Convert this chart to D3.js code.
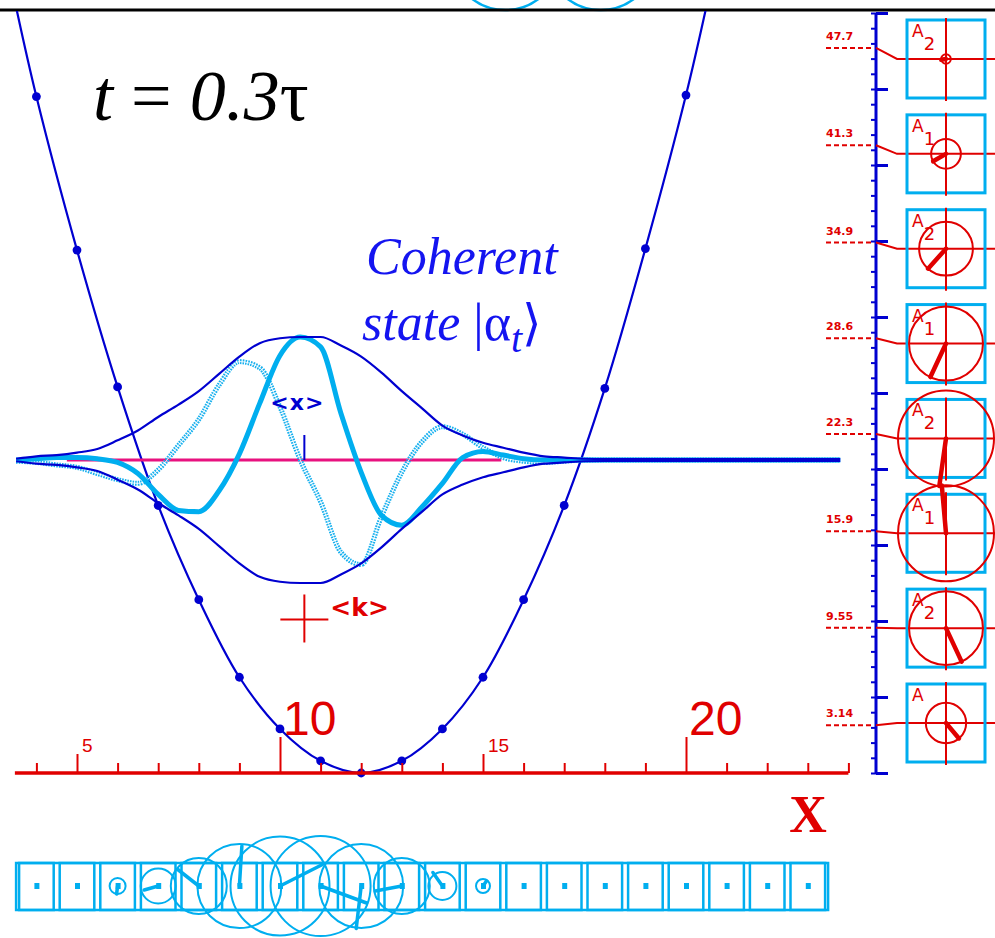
<!DOCTYPE html>
<html>
<head>
<meta charset="utf-8">
<script src="https://cdn.jsdelivr.net/npm/d3@7"></script>
<style>
  body { margin: 0; background: #fff; }
  svg { display: block; }
</style>
</head>
<body>
<script>
// ---------- data ----------
// sample positions along the oscillator coordinate
const gridX = [3.5, 4, 4.5, 5, 5.5, 6, 6.5, 7, 7.5, 8, 8.5, 9, 9.5, 10, 10.5, 11, 11.5, 12, 12.5, 13,
  13.5, 14, 14.5, 15, 15.5, 16, 16.5, 17, 17.5, 18, 18.5, 19, 19.5, 20, 20.5, 21, 21.5, 22, 22.5, 23, 23.5, 23.8];
// |psi| envelope
const envelope = [0.01, 0.03, 0.04, 0.06, 0.09, 0.16, 0.24, 0.35, 0.45, 0.56, 0.70, 0.84, 0.95, 0.99, 1.0, 1.0,
  0.93, 0.84, 0.71, 0.56, 0.42, 0.28, 0.20, 0.14, 0.10, 0.06, 0.03, 0.02, 0.01, 0.008, 0.008, 0.008, 0.008,
  0.008, 0.008, 0.008, 0.008, 0.008, 0.008, 0.008, 0.008, 0.008];
// real part
const rePsi = [0.0, 0.01, 0.02, 0.02, 0.01, -0.02, -0.11, -0.28, -0.41, -0.42, -0.25, 0.05, 0.46, 0.85, 1.0, 0.92,
  0.38, -0.10, -0.45, -0.53, -0.38, -0.19, 0.02, 0.07, 0.04, 0.01, 0.0, 0, 0, 0, 0, 0, 0, 0, 0, 0, 0, 0, 0, 0, 0, 0];
// imaginary part
const imPsi = [-0.01, -0.02, -0.04, -0.06, -0.11, -0.16, -0.19, -0.08, 0.12, 0.33, 0.61, 0.80, 0.75, 0.43, 0.0, -0.34,
  -0.75, -0.85, -0.46, -0.10, 0.15, 0.27, 0.21, 0.10, 0.02, -0.01, -0.02, -0.01, 0, 0, 0, 0, 0, 0, 0, 0, 0, 0, 0, 0, 0, 0];

// harmonic potential, sampled at integer positions (energy units)
const potX = [4, 5, 6, 7, 8, 9, 10, 11, 12, 13, 14, 15, 16, 17, 18, 19, 20];
const potV = [44.5, 34.4, 25.4, 17.6, 11.4, 6.3, 2.9, 0.8, 0, 0.8, 2.9, 6.3, 11.4, 17.6, 25.3, 34.5, 44.6];
// curve continues past the frame on both sides
const potEndsX = [3.45, 20.55];
const potEndsV = [51, 51];

const meanX = 10.6;        // <x>
const meanKLevel = 10.1;   // height of the <k> marker on the energy scale
const baselineSpan = [4.75, 15.45];

// x axis ticks and labels
const xTicks = [4, 5, 6, 7, 8, 9, 10, 11, 12, 13, 14, 15, 16, 17, 18, 19, 20, 21, 22, 23, 24];
const xLabelsSmall = [5, 15];
const xLabelsLarge = [10, 20];

// eigen-component panel (lowest level first)
const levelE = [3.14, 9.55, 15.9, 22.3, 28.6, 34.9, 41.3, 47.7];
const levelLabels = ["3.14", "9.55", "15.9", "22.3", "28.6", "34.9", "41.3", "47.7"];
const levelAmp = [0.42, 0.77, 1.0, 1.0, 0.77, 0.56, 0.31, 0.10];
const levelPhaseDeg = [-50, -65, 95, -98, -115, -132, -150, -170];
const levelSub = ["", "2", "1", "2", "1", "2", "1", "2"];
const energyTicksMinor = [0, 1, 2, 3, 4, 5, 6, 7, 8, 9, 10, 11, 12, 13, 14, 15, 16, 17, 18, 19, 20, 21, 22, 23, 24,
  25, 26, 27, 28, 29, 30, 31, 32, 33, 34, 35, 36, 37, 38, 39, 40, 41, 42, 43, 44, 45, 46, 47, 48, 49, 50];
const energyTicksMajor = [0, 5, 10, 15, 20, 25, 30, 35, 40, 45, 50];

// phasor strip cells
const cellX = [4, 5, 6, 7, 8, 9, 10, 11, 12, 13, 14, 15, 16, 17, 18, 19, 20, 21, 22, 23];
// neighbouring strip above the frame
const upperRowX = [15.55, 17.9];

// ---------- drawing ----------
const W = 995, H = 938;
const BLUE = "#0000d0", CYAN = "#00aeef", RED = "#e00000", PINK = "#e8117f";

const svg = d3.select("body").append("svg").attr("width", W).attr("height", H);

const xs = d3.scaleLinear().domain([5, 20]).range([77, 686]);
const yE = d3.scaleLinear().domain([0, 50]).range([773, 13]);
const yW = d3.scaleLinear().domain([-1, 1]).range([583, 337]);

const wave = gridX.map((x, i) => ({ x, env: envelope[i], re: rePsi[i], im: imPsi[i] }));
const byX = new Map(wave.map(d => [d.x, d]));

// strip of phasors above the frame (only the lower arcs show)
svg.append("g").selectAll("circle").data(upperRowX).join("circle")
  .attr("cx", d => xs(d)).attr("cy", -45).attr("r", 55)
  .attr("fill", "none").attr("stroke", CYAN).attr("stroke-width", 2.5);

// top frame line
svg.append("line").attr("x1", 0).attr("x2", W).attr("y1", 10).attr("y2", 10)
  .attr("stroke", "#000").attr("stroke-width", 3);

// title
const title = svg.append("text").attr("x", 93).attr("y", 120)
  .attr("font-family", "Liberation Serif, Times New Roman, serif").attr("font-size", 72).attr("fill", "#000");
title.append("tspan").attr("font-style", "italic").text("t");
title.append("tspan").text(" = ");
title.append("tspan").attr("font-style", "italic").text("0.3");
title.append("tspan").text("τ");

// caption
const capFont = "Liberation Serif, Times New Roman, serif";
svg.append("text").attr("x", 366).attr("y", 274).attr("font-family", capFont)
  .attr("font-style", "italic").attr("font-size", 52).attr("fill", "#1414f0").text("Coherent");
const cap2 = svg.append("text").attr("x", 362).attr("y", 340).attr("font-family", capFont)
  .attr("font-size", 52).attr("fill", "#1414f0");
cap2.append("tspan").attr("font-style", "italic").text("state ");
cap2.append("tspan").text("|α");
cap2.append("tspan").attr("font-style", "italic").attr("font-size", 40).attr("dy", 12).text("t");
cap2.append("tspan").attr("dy", -12).attr("font-family", "DejaVu Serif, serif").attr("font-size", 50).text("⟩");

// potential
const potLine = d3.line().x(d => xs(d[0])).y(d => yE(d[1])).curve(d3.curveCatmullRom);
const potPts = [[potEndsX[0], potEndsV[0]], ...potX.map((x, i) => [x, potV[i]]), [potEndsX[1], potEndsV[1]]];
svg.append("defs").append("clipPath").attr("id", "frame")
  .append("rect").attr("x", 0).attr("y", 11).attr("width", W).attr("height", H);
svg.append("path").attr("d", potLine(potPts)).attr("clip-path", "url(#frame)")
  .attr("fill", "none").attr("stroke", BLUE).attr("stroke-width", 2.2);
svg.append("g").selectAll("circle").data(potX).join("circle")
  .attr("cx", d => xs(d)).attr("cy", (d, i) => yE(potV[i])).attr("r", 4.4).attr("fill", BLUE);

// baseline of the wave packet
svg.append("line").attr("x1", xs(baselineSpan[0])).attr("x2", xs(baselineSpan[1]))
  .attr("y1", yW(0)).attr("y2", yW(0)).attr("stroke", PINK).attr("stroke-width", 3);

const line = (acc) => d3.line().x(d => xs(d.x)).y(d => yW(acc(d))).curve(d3.curveMonotoneX);
// imaginary part (stippled double line)
svg.append("path").attr("d", line(d => d.im)(wave)).attr("fill", "none")
  .attr("stroke", "#18b0ee").attr("stroke-width", 5).attr("stroke-dasharray", "1.6 1.1");
svg.append("path").attr("d", line(d => d.im)(wave)).attr("fill", "none")
  .attr("stroke", "#fff").attr("stroke-width", 1).attr("stroke-opacity", 0.85);
// real part
svg.append("path").attr("d", line(d => d.re)(wave)).attr("fill", "none")
  .attr("stroke", CYAN).attr("stroke-width", 5).attr("stroke-linejoin", "round");
// envelopes
svg.append("path").attr("d", line(d => d.env)(wave)).attr("fill", "none")
  .attr("stroke", BLUE).attr("stroke-width", 2.2);
svg.append("path").attr("d", line(d => -d.env)(wave)).attr("fill", "none")
  .attr("stroke", BLUE).attr("stroke-width", 2.2);

// <x> marker
svg.append("line").attr("x1", xs(meanX)).attr("x2", xs(meanX)).attr("y1", yW(0)).attr("y2", yW(0) - 25)
  .attr("stroke", BLUE).attr("stroke-width", 2);
svg.append("text").attr("x", xs(meanX) - 7).attr("y", 410).attr("text-anchor", "middle")
  .attr("font-family", "DejaVu Sans, sans-serif").attr("font-weight", "bold").attr("font-size", 22)
  .attr("letter-spacing", 1).attr("fill", BLUE).text("<x>");

// <k> marker
const kx = xs(meanX), ky = yE(meanKLevel);
svg.append("line").attr("x1", kx - 24).attr("x2", kx + 24).attr("y1", ky).attr("y2", ky)
  .attr("stroke", RED).attr("stroke-width", 2);
svg.append("line").attr("x1", kx).attr("x2", kx).attr("y1", ky - 25).attr("y2", ky + 23)
  .attr("stroke", RED).attr("stroke-width", 2);
svg.append("text").attr("x", kx + 26).attr("y", ky - 3)
  .attr("font-family", "DejaVu Sans, sans-serif").attr("font-weight", "bold").attr("font-size", 25)
  .attr("fill", RED).text("<k>");

// x axis
const tickLen = v => xLabelsLarge.includes(v) ? 36 : xLabelsSmall.includes(v) ? 19 : 10;
const gx = svg.append("g").attr("transform", `translate(0,${yE(0)})`)
  .call(d3.axisTop(xs).tickValues(xTicks).tickFormat("").tickSizeOuter(0));
gx.select(".domain").remove();
gx.selectAll(".tick line").attr("y2", d => -tickLen(d)).attr("stroke", RED).attr("stroke-width", 2);
gx.append("line").attr("x1", xs(3.47)).attr("x2", xs(24)).attr("stroke", RED).attr("stroke-width", 3.5);
gx.selectAll(".lblS").data(xLabelsSmall).join("text").attr("class", "lblS")
  .attr("text-anchor", "start").attr("x", d => xs(d) + 5).attr("y", -21)
  .attr("font-family", "Liberation Sans, Arial, sans-serif").attr("font-size", 19).attr("fill", RED).text(d => d);
gx.selectAll(".lblL").data(xLabelsLarge).join("text").attr("class", "lblL")
  .attr("text-anchor", "start").attr("x", d => xs(d) + 3).attr("y", -38)
  .attr("font-family", "Liberation Sans, Arial, sans-serif").attr("font-size", 48).attr("fill", RED).text(d => d);
svg.append("text").attr("x", 808).attr("y", 832).attr("text-anchor", "middle")
  .attr("font-family", "Liberation Serif, Times New Roman, serif").attr("font-weight", "bold")
  .attr("font-size", 52).attr("fill", RED).text("X");

// energy axis
const AX = 876;
const gL = svg.append("g").attr("transform", `translate(${AX},0)`)
  .call(d3.axisLeft(yE).tickValues(energyTicksMinor).tickFormat("").tickSize(5).tickSizeOuter(0));
gL.select(".domain").remove();
gL.selectAll(".tick line").attr("stroke", BLUE).attr("stroke-width", 2);
const gR = svg.append("g").attr("transform", `translate(${AX},0)`)
  .call(d3.axisRight(yE).tickValues(energyTicksMajor).tickFormat("").tickSize(12).tickSizeOuter(0));
gR.select(".domain").remove();
gR.selectAll(".tick line").attr("stroke", BLUE).attr("stroke-width", 3);
svg.append("line").attr("x1", AX).attr("x2", AX).attr("y1", yE(50)).attr("y2", yE(0))
  .attr("stroke", BLUE).attr("stroke-width", 3);

// eigen-component boxes
const yBox = d3.scalePoint().domain(d3.range(levelE.length)).range([723, 59]);
const BX = 946, BS = 78, RMAX = 48;
const levels = levelE.map((e, i) => ({ i, e, label: levelLabels[i], amp: levelAmp[i], ph: levelPhaseDeg[i], sub: levelSub[i] }));
const lg = svg.append("g");
levels.forEach(d => {
  const yl = yE(d.e), yb = yBox(d.i);
  // level label with dashed leader
  lg.append("line").attr("x1", 826).attr("x2", AX - 2).attr("y1", yl).attr("y2", yl)
    .attr("stroke", RED).attr("stroke-width", 2).attr("stroke-dasharray", "5 3");
  lg.append("text").attr("x", 826).attr("y", yl - 8)
    .attr("font-family", "DejaVu Sans, sans-serif").attr("font-weight", "bold").attr("font-size", 11)
    .attr("fill", RED).text(d.label);
  // connector into the box
  lg.append("polyline").attr("points", `${AX},${yl} ${AX + 21},${yb} ${W},${yb}`)
    .attr("fill", "none").attr("stroke", RED).attr("stroke-width", 2);
  // box
  lg.append("rect").attr("x", BX - BS / 2).attr("y", yb - BS / 2).attr("width", BS).attr("height", BS)
    .attr("fill", "none").attr("stroke", CYAN).attr("stroke-width", 3);
  lg.append("line").attr("x1", BX).attr("x2", BX).attr("y1", yb - BS / 2 - 2).attr("y2", yb + BS / 2 + 3)
    .attr("stroke", RED).attr("stroke-width", 2);
  // amplitude circle and phasor
  const r = d.amp * RMAX, a = d.ph * Math.PI / 180;
  lg.append("circle").attr("cx", BX).attr("cy", yb).attr("r", r)
    .attr("fill", "none").attr("stroke", RED).attr("stroke-width", 2);
  lg.append("line").attr("x1", BX).attr("y1", yb)
    .attr("x2", BX + r * Math.cos(a)).attr("y2", yb - r * Math.sin(a))
    .attr("stroke", RED).attr("stroke-width", 4.5).attr("stroke-linecap", "round");
  // label A_n
  const t = lg.append("text").attr("x", BX - 34).attr("y", yb - 22)
    .attr("font-family", "DejaVu Sans, sans-serif").attr("font-size", 17).attr("fill", RED);
  t.append("tspan").text("A");
  t.append("tspan").attr("dy", 13).attr("font-size", 18).text(d.sub);
});

// phasor strip
const SY = 886, SR = 50;
const strip = svg.append("g");
strip.append("rect").attr("x", xs(3.5)).attr("y", SY - 23).attr("width", xs(23.5) - xs(3.5)).attr("height", 47)
  .attr("fill", "none").attr("stroke", CYAN).attr("stroke-width", 2.5);
cellX.forEach(n => {
  const d = byX.get(n);
  const cx = xs(n);
  strip.append("rect").attr("x", xs(n - 0.5) + 3).attr("y", SY - 23).attr("width", xs(n + 0.5) - xs(n - 0.5) - 6)
    .attr("height", 47).attr("fill", "none").attr("stroke", CYAN).attr("stroke-width", 2.5);
  const r = d.env * SR;
  if (r > 4) {
    strip.append("circle").attr("cx", cx).attr("cy", SY).attr("r", r)
      .attr("fill", "none").attr("stroke", CYAN).attr("stroke-width", 2);
    strip.append("line").attr("x1", cx).attr("y1", SY)
      .attr("x2", cx + d.re * SR).attr("y2", SY - d.im * SR)
      .attr("stroke", CYAN).attr("stroke-width", 3.5).attr("stroke-linecap", "round");
  }
  strip.append("rect").attr("x", cx - 2).attr("y", SY - 3).attr("width", 5).attr("height", 6).attr("fill", CYAN);
});
</script>
</body>
</html>
